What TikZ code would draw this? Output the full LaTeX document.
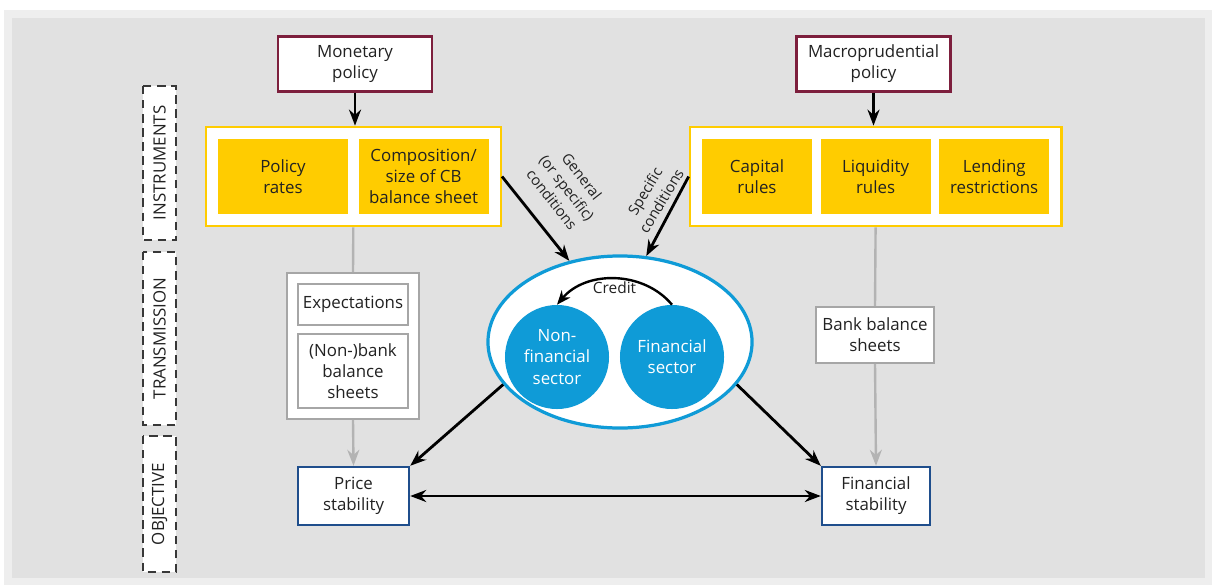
\documentclass[tikz,border=0pt]{standalone}
\usepackage{fontspec}
\setmainfont{Open Sans}
\usepackage{xcolor}
\usepackage{tikz}
\usetikzlibrary{positioning,arrows.meta,fit,shapes.geometric,backgrounds}
\definecolor{panel}{HTML}{E1E1E1}
\definecolor{haze}{HTML}{EEEEEE}
\definecolor{maroon}{HTML}{7D1F3D}
\definecolor{gold}{HTML}{FFCC00}
\definecolor{navy}{HTML}{1F4E8C}
\definecolor{sky}{HTML}{0F9BD7}
\definecolor{ink}{HTML}{222222}
\definecolor{rule}{HTML}{B3B3B3}
\definecolor{frame}{HTML}{A6A6A6}

\begin{document}
\begin{tikzpicture}[
  x=0.025cm,y=-0.025cm,
  font=\fontsize{12}{15}\selectfont,text=ink,
  policy/.style={draw=maroon,line width=1.7pt,fill=white,align=center,minimum width=3.85cm,minimum height=1.375cm,inner sep=2pt},
  instr/.style={fill=gold,align=center,minimum height=1.875cm,inner sep=2pt},
  outer/.style={draw=gold,line width=1.5pt,fill=white,inner sep=0.3cm},
  chan/.style={draw=frame,line width=1.4pt,fill=white,align=center,inner sep=2pt},
  goal/.style={draw=navy,line width=1.7pt,fill=white,align=center,minimum height=1.45cm,inner sep=2pt},
  sector/.style={circle,fill=sky,text=white,align=center,minimum size=2.6cm,inner sep=0pt},
  stage/.style={draw=ink!90,dashed,dash pattern=on 6pt off 4pt,line width=1.2pt,fill=white,rotate=90,minimum height=0.825cm,inner sep=0pt},
  arr/.style={-{Stealth[length=4mm,width=3mm]},line width=2pt,draw=black},
  garr/.style={-{Stealth[length=4mm,width=3mm]},line width=1.7pt,draw=rule},
  lbl/.style={font=\fontsize{10.5}{13.5}\selectfont,color=ink,align=center,inner sep=1pt}]
  \useasboundingbox (0,0) rectangle (1214,585);
  \begin{scope}[on background layer]
    \fill[white] (0,0) rectangle (1214,585);
    \fill[haze] (4,10) rectangle (1212,585);
    \fill[panel] (12,18) rectangle (1205,578);
  \end{scope}

  \node[stage,minimum width=3.85cm] (s1) at (159.5,163) {INSTRUMENTS};
  \node[stage,minimum width=4.325cm] (s2) at (159.5,338.5) {TRANSMISSION};
  \node[stage,minimum width=3.4cm] (s3) at (159.5,504) {OBJECTIVE};

  \node[policy] (mon) at (355,64) {Monetary\\policy};
  \node[policy] (macro) at (873.5,64) {Macroprudential\\policy};

  \node[instr,minimum width=3.25cm] (rates) at (283,176.5) {Policy\\rates};
  \node[instr,minimum width=3.25cm,right=0.25cm of rates] (comp) {Composition/\\size of CB\\balance sheet};
  \node[instr,minimum width=2.75cm] (capital) at (757,176.5) {Capital\\rules};
  \node[instr,minimum width=2.75cm,right=0.2cm of capital] (liquid) {Liquidity\\rules};
  \node[instr,minimum width=2.75cm,right=0.2cm of liquid] (lend) {Lending\\restrictions};

  \node[chan,minimum width=2.75cm,minimum height=1.025cm] (expect) at (353,304.5) {Expectations};
  \node[chan,minimum width=2.75cm,minimum height=1.85cm,below=0.175cm of expect] (nbbs) {(Non-)bank\\balance\\sheets};
  \node[chan,minimum width=2.95cm,minimum height=1.4cm] (bbs) at (875,335) {Bank balance\\sheets};

  \begin{scope}[on background layer]
    \node[outer,fit=(rates)(comp)] (instL) {};
    \node[outer,fit=(capital)(lend)] (instR) {};
    \node[chan,fit=(expect)(nbbs),inner sep=0.25cm] (expbox) {};
  \end{scope}

  \node[goal,minimum width=2.775cm] (price) at (353.5,496) {Price\\stability};
  \node[goal,minimum width=2.7cm] (finstab) at (876,496) {Financial\\stability};

  \node[ellipse,draw=sky,line width=2.3pt,fill=white,minimum width=6.6cm,minimum height=4.3cm] (econ) at (620,342) {};
  \node[sector] (nonfin) at (557,357) {Non-\\financial\\sector};
  \node[sector] (fin) at (672,357) {Financial\\sector};

  \draw[arr] (mon) -- (mon |- instL.north);
  \draw[arr] (macro) -- (macro |- instR.north);
  \draw[arr] (instL.east) -- (econ.122);
  \draw[arr] (instR.west) -- (econ.73);
  \node[lbl,rotate=-52] (genlbl) at (567,188) {General\\(or specific)\\conditions};
  \node[lbl,rotate=59] (spclbl) at (653,196) {Specific\\conditions};
  \draw[arr,line width=1.7pt,-{Stealth[length=3.5mm,width=2.8mm]}] (fin.north) to[bend right=50] node[below,font=\fontsize{11}{13}\selectfont,inner sep=1pt]{Credit} (nonfin.north);
  \draw[rule,line width=1.7pt] (instL.south) -- (expbox.north);
  \draw[garr] (expbox.south) -- (price.north);
  \draw[rule,line width=1.7pt] (instR.south) -- (bbs.north);
  \draw[garr] (bbs.south) -- (finstab.north);
  \draw[arr] (econ.200) -- (price.north east);
  \draw[arr] (econ.340) -- (finstab.north west);
  \draw[arr,{Stealth[length=4mm,width=3mm]}-{Stealth[length=4mm,width=3mm]}] (price.east) -- (finstab.west);
\end{tikzpicture}
\end{document}
